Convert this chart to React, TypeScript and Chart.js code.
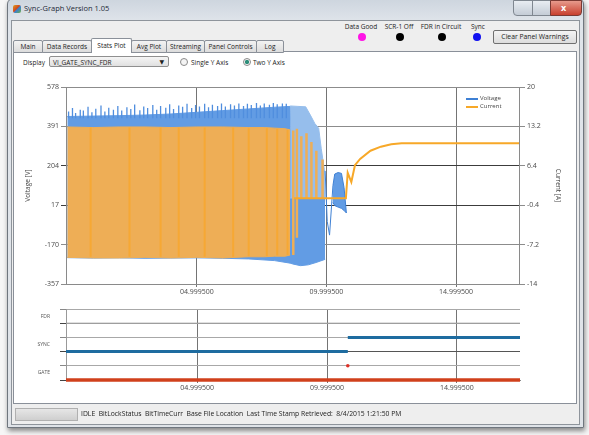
import React, { useEffect, useRef } from 'react';
import { Chart, registerables } from 'chart.js';

Chart.register(...registerables);

// ---------- shared x axis ----------
const xTickValues = [4.9995, 9.9995, 14.9995];
const xTickLabels = ['04.999500', '09.999500', '14.999500'];
const xMin = -0.05;
const xMax = 17.43;

// ---------- top chart axes ----------
const voltTicks = [-357, -170, 17, 204, 391, 578];
const currTicks = [-14, -7.2, -0.4, 6.4, 13.2, 20];

// ---------- Voltage (dense band envelope) ----------
const voltBandX = [0, 1, 2, 3, 4, 5, 6, 7, 8, 8.6, 8.7, 9.0, 9.3, 9.6, 9.95];
const voltBandHigh = [438, 440, 442, 445, 450, 458, 466, 474, 482, 486, 51, 51, 51, 51, 51];
const voltBandLow = [-232, -234, -233, -235, -234, -233, -235, -238, -246, -258, -262, -270, -266, -255, -240];

// fine spikes on top of the voltage band
const voltSpikeX = [0.05, 0.2, 0.32, 0.5, 0.62, 0.8, 0.95, 1.1, 1.3, 1.45, 1.6, 1.78, 1.95, 2.1, 2.3, 2.45, 2.6, 2.8, 2.95, 3.1, 3.3, 3.45, 3.6, 3.8, 3.95, 4.1, 4.3, 4.45, 4.62, 4.8, 4.95, 5.1, 5.3, 5.45, 5.6, 5.8, 5.95, 6.1, 6.3, 6.45, 6.62, 6.8, 6.95, 7.1, 7.3, 7.45, 7.6, 7.8, 7.95, 8.1, 8.3, 8.45];
const voltSpikeTop = [462, 478, 455, 470, 466, 484, 458, 475, 490, 462, 480, 470, 488, 466, 482, 474, 495, 468, 486, 478, 492, 470, 488, 480, 496, 474, 490, 484, 498, 478, 492, 486, 498, 482, 494, 488, 500, 486, 496, 490, 500, 488, 498, 492, 502, 490, 500, 494, 502, 496, 500, 498];
const voltSpikeBase = 430;

// Voltage fading oscillation (above the flat part)
const voltFadeX = [8.6, 8.9, 9.2, 9.4, 9.55, 9.7, 9.8, 9.92, 9.95];
const voltFadeHigh = [488, 486, 484, 440, 405, 382, 285, 185, 51];
const voltFadeLow = [51, 51, 51, 51, 51, 51, 51, 51, 51];

// Voltage tail and bump
const voltTailX = [9.95, 10.03, 10.12, 10.25];
const voltTailY = [180, -60, -125, 110];
const voltBumpX = [10.25, 10.32, 10.45, 10.58, 10.68, 10.77];
const voltBumpHigh = [110, 165, 172, 168, 100, -20];
const voltBumpLow = [30, 15, 8, 2, -8, -20];

// ---------- Current (dense band envelope) ----------
const currBandX = [0, 1, 2, 3, 4, 5, 6, 7, 7.6, 8.0, 8.4, 8.6];
const currBandHigh = [13.1, 13.0, 13.1, 13.1, 13.0, 13.1, 13.1, 13.0, 13.0, 12.9, 12.8, 12.6];
const currBandLow = [-9.4, -9.5, -9.5, -9.4, -9.5, -9.4, -9.5, -9.3, -9.3, -9.2, -9.2, -9.0];

// brighter streaks inside the current band
const currStreakX = [0.9, 2.4, 3.6, 4.3, 5.3, 6.4, 7.0, 7.7, 8.1, 8.5];
const currStreakTop = [13.0, 13.0, 13.0, 13.0, 13.0, 13.0, 12.9, 12.9, 12.8, 12.6];
const currStreakBottom = [-9.3, -9.3, -9.3, -9.3, -9.3, -9.3, -9.2, -9.2, -9.1, -9.0];

// separate current bursts while the oscillation decays
const currBurstX = [8.72, 8.86, 9.03, 9.23, 9.42, 9.61, 9.85];
const currBurstTop = [12.5, 12.8, 11.5, 12.0, 10.5, 9.0, 7.5];
const currBurstBottom = [-9.0, -6.0, 0.8, 0.8, 0.8, 0.8, 0.8];

// current after the transition
const currTailX = [8.75, 10.75, 10.82, 10.96, 11.1, 11.3, 11.7, 12.1, 12.5, 12.9, 17.43];
const currTailY = [0.8, 0.8, 5.2, 3.6, 6.5, 7.6, 9.0, 9.7, 10.1, 10.3, 10.3];

// ---------- bottom chart (digital signals) ----------
const signalNames = ['GATE', 'SYNC', 'FDR'];
const signalLabelPos = [0.5, 2.5, 4.5];
const gateX = [xMin, xMax];
const gateY = [0, 0];
const gatePulseX = [10.8];
const gatePulseY = [1];
const syncX = [xMin, 10.8, 10.8, 10.8, xMax];
const syncY: (number | null)[] = [2, 2, null, 3, 3];
const fdrX = [xMin, xMax];
const fdrY = [4, 4];

const FONT = '"Open Sans", "DejaVu Sans", sans-serif';

function pts(xs: number[], ys: (number | null)[]) {
  return xs.map((x, i) => ({ x, y: ys[i] }));
}
function stripes(xs: number[], tops: number[], bottoms: number[] | number) {
  const out: { x: number; y: number | null }[] = [];
  xs.forEach((x, i) => {
    const b = Array.isArray(bottoms) ? bottoms[i] : bottoms;
    out.push({ x, y: tops[i] }, { x, y: b }, { x, y: null });
  });
  return out;
}

const BLUE_LINE = 'rgb(62,128,212)';
const BLUE_FILL = 'rgb(98,156,228)';
const BLUE_SPIKE = 'rgb(80,142,222)';
const BLUE_LIGHT = 'rgb(150,190,236)';
const ORANGE_FILL = 'rgb(238,174,86)';
const ORANGE_STREAK = 'rgb(246,168,52)';
const ORANGE = 'rgb(247,168,40)';

function xAxis(height: number, z: number) {
  return {
    type: 'linear' as const,
    min: xMin,
    max: xMax,
    z,
    afterBuildTicks: (s: any) => {
      s.ticks = xTickValues.map((v) => ({ value: v }));
    },
    afterFit: (s: any) => {
      s.height = height;
    },
    ticks: {
      autoSkip: false,
      maxRotation: 0,
      padding: 1,
      color: '#4a4a4a',
      font: { size: 7, family: FONT },
      callback: (_v: any, i: number) => xTickLabels[i],
    },
    grid: { color: 'rgba(70,70,70,0.75)', tickLength: 3, lineWidth: 1 },
    border: { color: '#8a8a8a' },
  };
}

function TopChart() {
  const ref = useRef<HTMLCanvasElement>(null);
  useEffect(() => {
    if (!ref.current) return;
    const line = (data: any, color: string, extra: any = {}) => ({
      data,
      borderColor: color,
      borderWidth: 1,
      pointRadius: 0,
      tension: 0,
      fill: false,
      spanGaps: false,
      ...extra,
    });
    const chart = new Chart(ref.current, {
      type: 'line',
      data: {
        datasets: [
          line(pts(voltBandX, voltBandHigh), BLUE_FILL, { yAxisID: 'yV', order: 10, label: 'Voltage' }),
          line(pts(voltBandX, voltBandLow), BLUE_FILL, { yAxisID: 'yV', order: 10, fill: '-1', backgroundColor: BLUE_FILL }),
          line(stripes(voltSpikeX, voltSpikeTop, voltSpikeBase), BLUE_SPIKE, { yAxisID: 'yV', order: 9.5, borderWidth: 1.3 }),
          line(pts(voltFadeX, voltFadeHigh), BLUE_LIGHT, { yAxisID: 'yV', order: 9 }),
          line(pts(voltFadeX, voltFadeLow), BLUE_LIGHT, { yAxisID: 'yV', order: 9, fill: '-1', backgroundColor: BLUE_LIGHT }),
          line(pts(currBandX, currBandHigh), ORANGE_FILL, { yAxisID: 'yC', order: 8, label: 'Current' }),
          line(pts(currBandX, currBandLow), ORANGE_FILL, { yAxisID: 'yC', order: 8, fill: '-1', backgroundColor: ORANGE_FILL }),
          line(stripes(currStreakX, currStreakTop, currStreakBottom), ORANGE_STREAK, { yAxisID: 'yC', order: 7, borderWidth: 2 }),
          line(stripes(currBurstX, currBurstTop, currBurstBottom), ORANGE_FILL, { yAxisID: 'yC', order: 7, borderWidth: 2.5 }),
          line(pts(voltTailX, voltTailY), BLUE_LINE, { yAxisID: 'yV', order: 6 }),
          line(pts(voltBumpX, voltBumpHigh), BLUE_LINE, { yAxisID: 'yV', order: 5 }),
          line(pts(voltBumpX, voltBumpLow), BLUE_LINE, { yAxisID: 'yV', order: 5, fill: '-1', backgroundColor: BLUE_FILL }),
          line(pts(currTailX, currTailY), ORANGE, { yAxisID: 'yC', order: 4, borderWidth: 2 }),
        ],
      },
      options: {
        responsive: false,
        animation: false,
        events: [],
        layout: { padding: { top: 7, left: 0, right: 0, bottom: 0 } },
        plugins: { legend: { display: false }, tooltip: { enabled: false } },
        scales: {
          x: xAxis(14, 1) as any,
          yV: {
            type: 'linear',
            position: 'left',
            min: -357,
            max: 578,
            afterBuildTicks: (s: any) => {
              s.ticks = voltTicks.map((v) => ({ value: v }));
            },
            afterFit: (s: any) => {
              s.width = 44;
            },
            title: { display: true, text: 'Voltage [V]', color: '#444', font: { size: 6.5, family: FONT }, padding: 2 },
            ticks: { padding: 2, color: '#4a4a4a', font: { size: 7, family: FONT }, callback: (v: any) => String(v) },
            grid: {
              tickLength: 5,
              color: (c: any) => (c.tick && (c.tick.value === 17 || c.tick.value === 204) ? '#3c3c3c' : '#8c8c8c'),
            },
            border: { color: '#8a8a8a' },
          },
          yC: {
            type: 'linear',
            position: 'right',
            min: -14,
            max: 20,
            afterBuildTicks: (s: any) => {
              s.ticks = currTicks.map((v) => ({ value: v }));
            },
            afterFit: (s: any) => {
              s.width = 45;
            },
            title: { display: true, text: 'Current [A]', color: '#444', font: { size: 6.5, family: FONT }, padding: 2 },
            ticks: { padding: 2, color: '#4a4a4a', font: { size: 7, family: FONT }, callback: (v: any) => String(v) },
            grid: { drawOnChartArea: false, tickLength: 6, color: '#8c8c8c' },
            border: { color: '#8a8a8a' },
          },
        },
      },
    });
    return () => chart.destroy();
  }, []);
  return (
    <canvas
      ref={ref}
      width={542}
      height={218}
      style={{ position: 'absolute', left: 22, top: 80, width: 542, height: 218 }}
    />
  );
}

function BottomChart() {
  const ref = useRef<HTMLCanvasElement>(null);
  useEffect(() => {
    if (!ref.current) return;
    const chart = new Chart(ref.current, {
      type: 'line',
      data: {
        datasets: [
          { label: 'GATE', data: pts(gateX, gateY), borderColor: 'rgb(208,64,28)', borderWidth: 3.5, pointRadius: 0, clip: 4 },
          {
            label: 'GATE pulse',
            data: pts(gatePulseX, gatePulseY),
            showLine: false,
            pointRadius: 1.8,
            pointBorderWidth: 0,
            pointBackgroundColor: 'rgb(220,50,40)',
          },
          { label: 'SYNC', data: pts(syncX, syncY), borderColor: 'rgb(30,108,160)', borderWidth: 3, pointRadius: 0, spanGaps: false },
          { label: 'FDR', data: pts(fdrX, fdrY), borderColor: '#9a9a9a', borderWidth: 1, pointRadius: 0 },
        ],
      },
      options: {
        responsive: false,
        animation: false,
        events: [],
        layout: { padding: { top: 7, right: 44, left: 0, bottom: 0 } },
        plugins: { legend: { display: false }, tooltip: { enabled: false } },
        scales: {
          x: xAxis(16, 0) as any,
          y: {
            type: 'linear',
            min: 0,
            max: 5,
            afterBuildTicks: (s: any) => {
              const t: { value: number }[] = [];
              for (let i = 0; i <= 10; i++) t.push({ value: i / 2 });
              s.ticks = t;
            },
            afterFit: (s: any) => {
              s.width = 44;
            },
            ticks: {
              autoSkip: false,
              padding: 10,
              color: '#555',
              font: { size: 5, family: FONT },
              callback: (v: any) => {
                const k = signalLabelPos.indexOf(Number(v));
                return k >= 0 ? signalNames[k] : '';
              },
            },
            grid: {
              tickLength: 6,
              color: (c: any) => {
                const v = c.tick ? c.tick.value : 0;
                if (!Number.isInteger(v)) return 'rgba(0,0,0,0)';
                return v === 2 ? '#555' : '#a8a8a8';
              },
              tickColor: (c: any) => {
                const v = c.tick ? c.tick.value : 0;
                if (!Number.isInteger(v)) return 'rgba(0,0,0,0)';
                return v % 2 === 0 ? '#444' : '#888';
              },
            },
            border: { color: '#999' },
          },
        },
      },
    });
    return () => chart.destroy();
  }, []);
  return (
    <canvas
      ref={ref}
      width={542}
      height={100}
      style={{ position: 'absolute', left: 22, top: 296, width: 542, height: 100 }}
    />
  );
}

const tabs = [
  { name: 'Main', l: 13, r: 42 },
  { name: 'Data Records', l: 42, r: 91 },
  { name: 'Stats Plot', l: 91, r: 131 },
  { name: 'Avg Plot', l: 131, r: 166 },
  { name: 'Streaming', l: 166, r: 204 },
  { name: 'Panel Controls', l: 204, r: 256 },
  { name: 'Log', l: 256, r: 283 },
];

const indicators = [
  { name: 'Data Good', cx: 361, dot: 362, color: '#ff14e6' },
  { name: 'SCR-1 Off', cx: 399, dot: 400, color: '#000' },
  { name: 'FDR in Circuit', cx: 441, dot: 442, color: '#000' },
  { name: 'Sync', cx: 478, dot: 477, color: '#1010f0' },
];

export default function App() {
  const small = { fontFamily: FONT, fontSize: 7, color: '#222', whiteSpace: 'nowrap' as const, lineHeight: '9px' };
  return (
    <div
      style={{
        position: 'fixed',
        left: 0,
        top: 0,
        width: 589,
        height: 435,
        overflow: 'hidden',
        background: '#f6f6f6',
        fontFamily: FONT,
      }}
    >
      {/* window frame */}
      <div
        style={{
          position: 'absolute',
          left: 7,
          top: -2,
          width: 575,
          height: 428,
          background: 'linear-gradient(180deg, #cdd5de 0px, #dfe4ea 22px, #dfe3e8 100%)',
          border: '1px solid #6f767e',
          borderRadius: '6px 6px 0 0',
          boxShadow: '1px 3px 5px rgba(0,0,0,0.45)',
        }}
      />
      {/* title */}
      <div
        style={{
          position: 'absolute',
          left: 13,
          top: 5,
          width: 8,
          height: 8,
          background: 'linear-gradient(135deg, #e0a020 0%, #d04a20 45%, #3a7fd0 55%, #70b040 100%)',
          borderRadius: 2,
        }}
      />
      <div style={{ ...small, position: 'absolute', left: 24, top: 4, fontSize: 7.5, color: '#1e2a36' }}>
        Sync-Graph Version 1.05
      </div>
      {/* window buttons */}
      <div style={{ position: 'absolute', left: 513, top: 0, width: 18, height: 14, border: '1px solid #7f8790', borderRadius: '0 0 0 4px', background: 'linear-gradient(#e8edf2, #c4ccd6)' }} />
      <div style={{ position: 'absolute', left: 532, top: 0, width: 17, height: 14, border: '1px solid #7f8790', background: 'linear-gradient(#e8edf2, #c4ccd6)' }} />
      <div style={{ position: 'absolute', left: 550, top: 0, width: 30, height: 14, border: '1px solid #7a3a33', borderRadius: '0 0 4px 0', background: 'linear-gradient(#e79a8c, #c8402e)' }} />
      <div style={{ position: 'absolute', left: 561, top: 1, fontSize: 9, color: '#fff', fontFamily: FONT, fontWeight: 700 }}>x</div>

      {/* client area */}
      <div
        style={{
          position: 'absolute',
          left: 11,
          top: 20,
          width: 567,
          height: 403,
          background: '#eeeeee',
          border: '1px solid #8e949b',
        }}
      />
      {/* indicators */}
      {indicators.map((d) => (
        <React.Fragment key={d.name}>
          <div style={{ ...small, position: 'absolute', left: d.cx - 30, width: 60, textAlign: 'center', top: 22, fontSize: 6.5 }}>
            {d.name}
          </div>
          <div
            style={{
              position: 'absolute',
              left: d.dot - 4,
              top: 33,
              width: 8,
              height: 8,
              borderRadius: '50%',
              background: d.color,
            }}
          />
        </React.Fragment>
      ))}
      <div
        style={{
          ...small,
          position: 'absolute',
          left: 493,
          top: 30,
          width: 82,
          height: 12,
          lineHeight: '12px',
          textAlign: 'center',
          border: '1px solid #707070',
          borderRadius: 2,
          background: 'linear-gradient(#f4f4f4, #dcdcdc)',
          fontSize: 6.8,
        }}
      >
        Clear Panel Warnings
      </div>

      {/* tab page */}
      <div
        style={{
          position: 'absolute',
          left: 13,
          top: 51,
          width: 562,
          height: 351,
          background: '#ffffff',
          border: '1px solid #8a9099',
        }}
      />
      {tabs.map((t) => {
        const sel = t.name === 'Stats Plot';
        return (
          <div
            key={t.name}
            style={{
              ...small,
              position: 'absolute',
              left: t.l,
              top: sel ? 38 : 40,
              width: t.r - t.l - 1,
              height: sel ? 14 : 11,
              lineHeight: sel ? '13px' : '11px',
              textAlign: 'center',
              fontSize: 6.5,
              border: '1px solid #8a9099',
              borderBottom: sel ? 'none' : '1px solid #8a9099',
              borderRadius: '2px 2px 0 0',
              background: sel ? '#ffffff' : 'linear-gradient(#f3f3f3, #dcdcdc)',
              zIndex: sel ? 2 : 1,
            }}
          >
            {t.name}
          </div>
        );
      })}

      {/* display row */}
      <div style={{ ...small, position: 'absolute', left: 23, top: 58, fontSize: 6.5 }}>Display</div>
      <div
        style={{
          ...small,
          position: 'absolute',
          left: 49,
          top: 56,
          width: 120,
          height: 11,
          lineHeight: '11px',
          fontSize: 6.5,
          paddingLeft: 3,
          boxSizing: 'border-box',
          border: '1px solid #8f8f8f',
          borderRadius: 2,
          background: 'linear-gradient(#f5f5f5, #e0e0e0)',
        }}
      >
        VI_GATE_SYNC_FDR
        <span style={{ position: 'absolute', right: 4, top: 0, fontSize: 6 }}>▼</span>
      </div>
      <div style={{ position: 'absolute', left: 180, top: 58, width: 6, height: 6, borderRadius: '50%', border: '1px solid #8a8a8a', background: '#f4f4f4' }} />
      <div style={{ ...small, position: 'absolute', left: 191, top: 58, fontSize: 6.5 }}>Single Y Axis</div>
      <div style={{ position: 'absolute', left: 243, top: 58, width: 6, height: 6, borderRadius: '50%', border: '1px solid #8a8a8a', background: 'radial-gradient(circle, #2e8f7a 0 45%, #f4f4f4 55%)' }} />
      <div style={{ ...small, position: 'absolute', left: 253, top: 58, fontSize: 6.5 }}>Two Y Axis</div>

      {/* charts */}
      <TopChart />
      <BottomChart />

      {/* legend overlay */}
      <div style={{ position: 'absolute', left: 466, top: 98, width: 12, height: 2, background: BLUE_LINE }} />
      <div style={{ ...small, position: 'absolute', left: 480, top: 94, fontSize: 6, color: '#444' }}>Voltage</div>
      <div style={{ position: 'absolute', left: 466, top: 106, width: 12, height: 2, background: ORANGE }} />
      <div style={{ ...small, position: 'absolute', left: 480, top: 102, fontSize: 6, color: '#444' }}>Current</div>

      {/* status bar */}
      <div
        style={{
          position: 'absolute',
          left: 15,
          top: 408,
          width: 61,
          height: 11,
          border: '1px solid #b0b0b0',
          background: 'linear-gradient(#e6e6e6, #cfcfcf)',
        }}
      />
      <div style={{ ...small, position: 'absolute', left: 81, top: 409, fontSize: 6.8 }}>
        IDLE&nbsp;&nbsp;BitLockStatus&nbsp;&nbsp;BitTimeCurr&nbsp;&nbsp;Base File Location&nbsp;&nbsp;Last Time Stamp Retrieved:&nbsp;&nbsp;8/4/2015 1:21:50 PM
      </div>
    </div>
  );
}
